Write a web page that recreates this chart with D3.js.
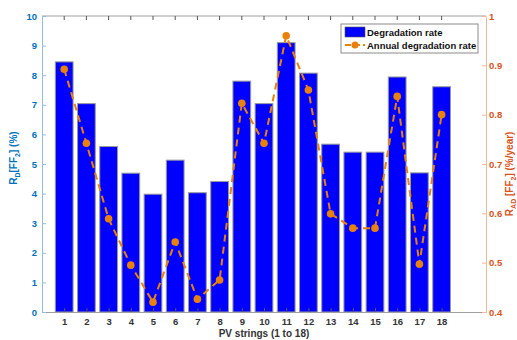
<!DOCTYPE html>
<html>
<head>
<meta charset="utf-8">
<script src="https://cdn.jsdelivr.net/npm/d3@7"></script>
<style>
  body { margin: 0; background: #fff; }
  text { font-family: "Liberation Sans", Arial, sans-serif; font-weight: bold; }
</style>
</head>
<body>
<div id="chart"></div>
<script>
// data
var strings = [1, 2, 3, 4, 5, 6, 7, 8, 9, 10, 11, 12, 13, 14, 15, 16, 17, 18];
var degradation = [8.45, 7.04, 5.59, 4.69, 3.98, 5.13, 4.03, 4.41, 7.8, 7.04, 9.1, 8.07, 5.67, 5.4, 5.4, 7.94, 4.7, 7.61];
var annual = [0.892, 0.742, 0.589, 0.495, 0.42, 0.542, 0.426, 0.465, 0.823, 0.742, 0.96, 0.85, 0.599, 0.57, 0.57, 0.837, 0.497, 0.80];
var leftTicks = [0, 1, 2, 3, 4, 5, 6, 7, 8, 9, 10];
var rightTicks = [0.4, 0.5, 0.6, 0.7, 0.8, 0.9, 1];

var width = 517, height = 340;
var margin = {top: 16, right: 31, bottom: 28, left: 42};
var blue = "#0072bd", orange = "#d95319", lineColor = "#e8820c";

var svg = d3.select("#chart").append("svg")
    .attr("width", width)
    .attr("height", height);

var x = d3.scaleLinear().domain([0, 20]).range([margin.left, width - margin.right]);
var yL = d3.scaleLinear().domain([0, 10]).range([height - margin.bottom, margin.top]);
var yR = d3.scaleLinear().domain([0.4, 1]).range([height - margin.bottom, margin.top]);

var barW = (x(1) - x(0)) * 0.8;

// bars
svg.selectAll(".bar")
    .data(degradation)
    .enter().append("rect")
    .attr("class", "bar")
    .attr("x", function(d, i) { return x(strings[i]) - barW / 2; })
    .attr("y", function(d) { return yL(d); })
    .attr("width", barW)
    .attr("height", function(d) { return yL(0) - yL(d); })
    .attr("fill", "#0000ff")
    .attr("stroke", "#9a9a9a")
    .attr("stroke-width", 1);

// top box line
svg.append("line")
    .attr("x1", margin.left).attr("x2", width - margin.right)
    .attr("y1", yL(10)).attr("y2", yL(10))
    .attr("stroke", "#a0a0a0");

// bottom axis
var xAxis = d3.axisBottom(x).tickValues(strings).tickSize(-4).tickPadding(6).tickSizeOuter(0);
var gx = svg.append("g")
    .attr("transform", "translate(0," + yL(0) + ")")
    .call(xAxis);
gx.select(".domain").attr("stroke", "#a0a0a0");
gx.selectAll(".tick line").attr("stroke", "#555");
gx.selectAll("text").attr("fill", "#333").style("font-size", "9.5px");

// top ticks
svg.selectAll(".ttick")
    .data(strings)
    .enter().append("line")
    .attr("x1", function(d) { return x(d); })
    .attr("x2", function(d) { return x(d); })
    .attr("y1", yL(10)).attr("y2", yL(10) + 4)
    .attr("stroke", "#555");

// left axis
var gl = svg.append("g")
    .attr("transform", "translate(" + margin.left + ",0)")
    .call(d3.axisLeft(yL).tickValues(leftTicks).tickSize(-4).tickPadding(5).tickSizeOuter(0));
gl.select(".domain").attr("stroke", "#8fbde0");
gl.selectAll(".tick line").attr("stroke", "#8fbde0");
gl.selectAll("text").attr("fill", blue).style("font-size", "9.5px");

// right axis
var gr = svg.append("g")
    .attr("transform", "translate(" + (width - margin.right) + ",0)")
    .call(d3.axisRight(yR).tickValues(rightTicks).tickSize(-4).tickPadding(3).tickSizeOuter(0)
        .tickFormat(function(d) { return d === 1 ? "1" : d3.format(".1f")(d); }));
gr.select(".domain").attr("stroke", "#f2b79c");
gr.selectAll(".tick line").attr("stroke", "#f2b79c");
gr.selectAll("text").attr("fill", orange).style("font-size", "9.5px");

// line
var line = d3.line()
    .x(function(d, i) { return x(strings[i]); })
    .y(function(d) { return yR(d); });

svg.append("path")
    .datum(annual)
    .attr("d", line)
    .attr("fill", "none")
    .attr("stroke", lineColor)
    .attr("stroke-width", 2)
    .attr("stroke-dasharray", "7,5");

svg.selectAll(".dot")
    .data(annual)
    .enter().append("circle")
    .attr("cx", function(d, i) { return x(strings[i]); })
    .attr("cy", function(d) { return yR(d); })
    .attr("r", 3.8)
    .attr("fill", lineColor);

// axis labels
svg.append("text")
    .attr("x", (x(0) + x(20)) / 2)
    .attr("y", height - 3)
    .attr("text-anchor", "middle")
    .attr("fill", "#333")
    .style("font-size", "10px")
    .text("PV strings (1 to 18)");

var lt = svg.append("text")
    .attr("transform", "translate(17," + yL(5.2) + ") rotate(-90)")
    .attr("text-anchor", "middle")
    .attr("fill", blue)
    .style("font-size", "10px");
lt.append("tspan").text("R");
lt.append("tspan").attr("dy", 3).style("font-size", "7px").text("D");
lt.append("tspan").attr("dy", -3).text("[FF");
lt.append("tspan").attr("dy", 3).style("font-size", "7px").text("2");
lt.append("tspan").attr("dy", -3).text("] (%)");

var rt = svg.append("text")
    .attr("transform", "translate(" + (width - 4) + "," + yR(0.68) + ") rotate(-90)")
    .attr("text-anchor", "middle")
    .attr("fill", orange)
    .style("font-size", "10px");
rt.append("tspan").text("R");
rt.append("tspan").attr("dy", 3).style("font-size", "7px").text("AD");
rt.append("tspan").attr("dy", -3).text(" [FF");
rt.append("tspan").attr("dy", 3).style("font-size", "7px").text("2");
rt.append("tspan").attr("dy", -3).text("] (%/year)");

// legend
var lg = svg.append("g").attr("transform", "translate(341,24)");
lg.append("rect")
    .attr("width", 137).attr("height", 29)
    .attr("fill", "#fff").attr("stroke", "#8a8a8a");
lg.append("rect")
    .attr("x", 4).attr("y", 3).attr("width", 20).attr("height", 10)
    .attr("fill", "#0000ff").attr("stroke", "#555").attr("stroke-width", 0.6);
lg.append("text").attr("x", 26).attr("y", 12).style("font-size", "9.5px").attr("fill", "#111").text("Degradation rate");
lg.append("line")
    .attr("x1", 4).attr("x2", 24).attr("y1", 21).attr("y2", 21)
    .attr("stroke", lineColor).attr("stroke-width", 2).attr("stroke-dasharray", "6,3");
lg.append("circle").attr("cx", 14).attr("cy", 21).attr("r", 3.5).attr("fill", lineColor);
lg.append("text").attr("x", 26).attr("y", 25).style("font-size", "9.5px").attr("fill", "#111").text("Annual degradation rate");
</script>
</body>
</html>
